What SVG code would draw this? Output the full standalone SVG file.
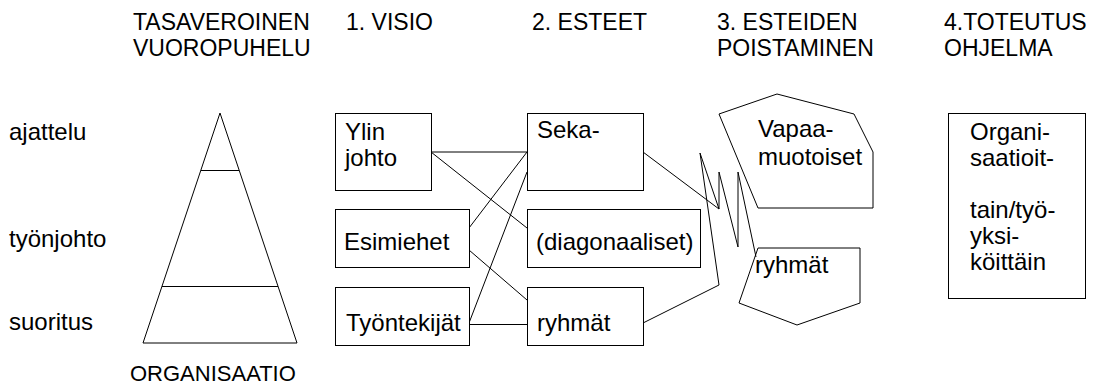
<svg xmlns="http://www.w3.org/2000/svg" width="1119" height="390" viewBox="0 0 1119 390">
<style>
text{font-family:"Liberation Sans",Arial,sans-serif;font-size:24px;fill:#000}
.h{font-size:23px}
.o{font-size:22px}
.s{fill:none;stroke:#000;stroke-width:1}
.b{fill:#fff;stroke:#000;stroke-width:1}
</style>
<rect width="1119" height="390" fill="#fff"/>
<g id="headers">
<text class="h" x="133" y="30">TASAVEROINEN</text>
<text class="h" x="133" y="56">VUOROPUHELU</text>
<text class="h" x="346" y="30">1. VISIO</text>
<text class="h" x="532" y="30">2. ESTEET</text>
<text class="h" x="717" y="30">3. ESTEIDEN</text>
<text class="h" x="717" y="56">POISTAMINEN</text>
<text class="h" x="944" y="30">4.TOTEUTUS</text>
<text class="h" x="944" y="56">OHJELMA</text>
</g>
<g id="levels">
<text x="9" y="140">ajattelu</text>
<text x="9" y="247">työnjohto</text>
<text x="9" y="330">suoritus</text>
</g>
<g id="pyramid">
<polygon class="s" points="220,113 297,343 143,343"/>
<line class="s" x1="201" y1="170.5" x2="239" y2="170.5"/>
<line class="s" x1="162" y1="286.5" x2="278" y2="286.5"/>
<text class="o" x="130" y="381">ORGANISAATIO</text>
</g>
<g id="connectors">
<polyline class="s" points="431,152 527,152"/>
<polyline class="s" points="431,152 527,228"/>
<polyline class="s" points="469,228 527,152"/>
<polyline class="s" points="469,250 527,300"/>
<polyline class="s" points="469,323 527,172"/>
<polyline class="s" points="469,324.5 527,324.5"/>
<polyline class="s" points="643,152 719,209 719,172 738,247 738,172 756,257"/>
<polyline class="s" points="643,323 719,285 700,153 719,209"/>
</g>
<g id="ylin-johto"><rect class="b" x="335.5" y="113.5" width="96" height="77"/><text x="345" y="140">Ylin</text><text x="345" y="166">johto</text></g>
<g id="esimiehet"><rect class="b" x="335.5" y="209.5" width="134" height="58"/><text x="344" y="250">Esimiehet</text></g>
<g id="tyontekijat"><rect class="b" x="335.5" y="287.5" width="134" height="58"/><text x="346" y="331">Työntekijät</text></g>
<g id="seka"><rect class="b" x="527.5" y="113.5" width="116" height="77"/><text x="537" y="138">Seka-</text></g>
<g id="diagonaaliset"><rect class="b" x="527.5" y="209.5" width="173" height="58"/><text x="536" y="250">(diagonaaliset)</text></g>
<g id="ryhmat1"><rect class="b" x="527.5" y="287.5" width="116" height="58"/><text x="537" y="331">ryhmät</text></g>
<g id="vapaamuotoiset"><polygon class="s" points="719,114 777,94 854,114 873,152 873,208 758,208"/><text x="758" y="137">Vapaa-</text><text x="758" y="165">muotoiset</text></g>
<g id="ryhmat2"><polygon class="s" points="758,248 860,248 860,303 797,325 739,303"/><text x="755" y="273">ryhmät</text></g>
<g id="toteutus"><rect class="b" x="948.5" y="113.5" width="137" height="185"/><text x="970" y="140">Organi-</text><text x="970" y="166">saatioit-</text><text x="970" y="218">tain/työ-</text><text x="970" y="244">yksi-</text><text x="970" y="270">köittäin</text></g>
</svg>
